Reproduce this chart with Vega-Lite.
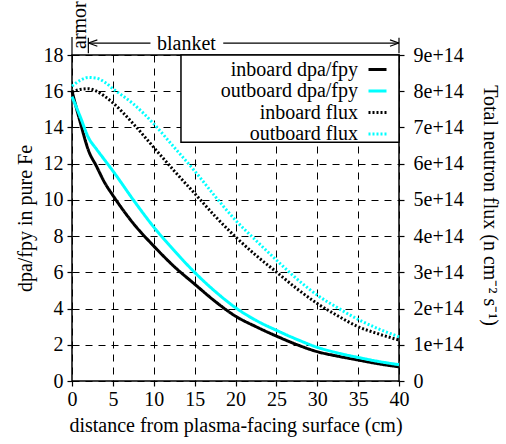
{
  "$schema": "https://vega.github.io/schema/vega-lite/v6.json",
  "width": 327,
  "height": 326,
  "autosize": {"type": "none"},
  "padding": {"left": 72, "top": 55, "right": 107, "bottom": 63},
  "config": {
    "font": "Liberation Serif",
    "background": "white",
    "view": {"stroke": "black", "strokeWidth": 1.5},
    "axis": {
      "labelFont": "Liberation Serif",
      "labelFontSize": 20,
      "labelColor": "black",
      "labelOverlap": false,
      "titleFont": "Liberation Serif",
      "titleFontSize": 20,
      "titleFontWeight": "normal",
      "titleColor": "black",
      "domain": false,
      "tickColor": "black",
      "tickSize": 5,
      "tickWidth": 1.2,
      "gridColor": "black",
      "gridWidth": 1,
      "gridDash": [7, 6],
      "gridOpacity": 1
    },
    "legend": {
      "orient": "none",
      "legendX": 295,
      "legendY": 4,
      "symbolType": "stroke",
      "symbolSize": 324,
      "symbolStrokeWidth": 3,
      "labelFont": "Liberation Serif",
      "labelFontSize": 20,
      "labelColor": "black",
      "labelAlign": "right",
      "labelOffset": -30,
      "rowPadding": 0.5,
      "padding": 0
    }
  },
  "datasets": {
    "rows": [
      {"d": 0, "inboard dpa/fpy": 16.0, "outboard dpa/fpy": 15.7, "inboard flux": 7.98e14, "outboard flux": 8.14e14},
      {"d": 1, "inboard dpa/fpy": 14.3, "outboard dpa/fpy": 14.6, "inboard flux": 8.05e14, "outboard flux": 8.30e14},
      {"d": 2, "inboard dpa/fpy": 12.75, "outboard dpa/fpy": 13.45, "inboard flux": 8.07e14, "outboard flux": 8.38e14},
      {"d": 3, "inboard dpa/fpy": 11.85, "outboard dpa/fpy": 12.8, "inboard flux": 8.0e14, "outboard flux": 8.36e14},
      {"d": 4, "inboard dpa/fpy": 10.95, "outboard dpa/fpy": 12.2, "inboard flux": 7.86e14, "outboard flux": 8.25e14},
      {"d": 5, "inboard dpa/fpy": 10.25, "outboard dpa/fpy": 11.6, "inboard flux": 7.68e14, "outboard flux": 8.07e14},
      {"d": 7.5, "inboard dpa/fpy": 8.7, "outboard dpa/fpy": 10.0, "inboard flux": 7.1e14, "outboard flux": 7.65e14},
      {"d": 10, "inboard dpa/fpy": 7.45, "outboard dpa/fpy": 8.5, "inboard flux": 6.45e14, "outboard flux": 7.1e14},
      {"d": 12.5, "inboard dpa/fpy": 6.32, "outboard dpa/fpy": 7.2, "inboard flux": 5.8e14, "outboard flux": 6.45e14},
      {"d": 15, "inboard dpa/fpy": 5.35, "outboard dpa/fpy": 6.0, "inboard flux": 5.18e14, "outboard flux": 5.8e14},
      {"d": 17.5, "inboard dpa/fpy": 4.4, "outboard dpa/fpy": 4.95, "inboard flux": 4.55e14, "outboard flux": 5.1e14},
      {"d": 20, "inboard dpa/fpy": 3.58, "outboard dpa/fpy": 4.05, "inboard flux": 3.98e14, "outboard flux": 4.44e14},
      {"d": 22.5, "inboard dpa/fpy": 3.0, "outboard dpa/fpy": 3.35, "inboard flux": 3.47e14, "outboard flux": 3.88e14},
      {"d": 25, "inboard dpa/fpy": 2.48, "outboard dpa/fpy": 2.8, "inboard flux": 3.01e14, "outboard flux": 3.34e14},
      {"d": 27.5, "inboard dpa/fpy": 2.01, "outboard dpa/fpy": 2.3, "inboard flux": 2.55e14, "outboard flux": 2.82e14},
      {"d": 30, "inboard dpa/fpy": 1.62, "outboard dpa/fpy": 1.86, "inboard flux": 2.14e14, "outboard flux": 2.37e14},
      {"d": 32.5, "inboard dpa/fpy": 1.37, "outboard dpa/fpy": 1.55, "inboard flux": 1.8e14, "outboard flux": 2.02e14},
      {"d": 35, "inboard dpa/fpy": 1.16, "outboard dpa/fpy": 1.3, "inboard flux": 1.5e14, "outboard flux": 1.7e14},
      {"d": 37.5, "inboard dpa/fpy": 0.95, "outboard dpa/fpy": 1.08, "inboard flux": 1.3e14, "outboard flux": 1.44e14},
      {"d": 40, "inboard dpa/fpy": 0.78, "outboard dpa/fpy": 0.9, "inboard flux": 1.13e14, "outboard flux": 1.22e14}
    ]
  },
  "layer": [
    {
      "layer": [
        {
          "data": {"values": [{}]},
          "mark": {"type": "rect", "fill": "white", "stroke": "black", "strokeWidth": 1.5},
          "encoding": {
            "x": {"datum": 13.33, "type": "quantitative", "axis": null},
            "x2": {"datum": 40},
            "y": {"datum": 18, "type": "quantitative", "axis": null, "scale": {"domain": [0, 18], "nice": false}},
            "y2": {"datum": 13.18}
          }
        },
        {
          "data": {"values": [{}]},
          "mark": {"type": "rule", "color": "black", "strokeWidth": 1.2},
          "encoding": {
            "x": {"datum": 0, "type": "quantitative", "axis": null},
            "y": {"datum": 18, "type": "quantitative", "axis": null},
            "y2": {"datum": 19}
          }
        },
        {
          "data": {"values": [{}]},
          "mark": {"type": "rule", "color": "black", "strokeWidth": 1.2},
          "encoding": {
            "x": {"datum": 2, "type": "quantitative", "axis": null},
            "y": {"datum": 18.1, "type": "quantitative", "axis": null},
            "y2": {"datum": 18.95}
          }
        },
        {
          "data": {"values": [{}]},
          "mark": {"type": "rule", "color": "black", "strokeWidth": 1.2},
          "encoding": {
            "x": {"datum": 40, "type": "quantitative", "axis": null},
            "y": {"datum": 18.1, "type": "quantitative", "axis": null},
            "y2": {"datum": 18.95}
          }
        },
        {
          "data": {"values": [{}]},
          "mark": {"type": "rule", "color": "black", "strokeWidth": 1.2},
          "encoding": {
            "x": {"datum": 2, "type": "quantitative", "axis": null},
            "x2": {"datum": 9.6},
            "y": {"datum": 18.66, "type": "quantitative", "axis": null}
          }
        },
        {
          "data": {"values": [{}]},
          "mark": {"type": "rule", "color": "black", "strokeWidth": 1.2},
          "encoding": {
            "x": {"datum": 18.5, "type": "quantitative", "axis": null},
            "x2": {"datum": 40},
            "y": {"datum": 18.66, "type": "quantitative", "axis": null}
          }
        },
        {
          "data": {"values": [{}]},
          "mark": {"type": "point", "shape": "M0,0L1,-0.35M0,0L1,0.35", "filled": false, "stroke": "black", "strokeWidth": 1.2, "size": 324, "opacity": 1},
          "encoding": {
            "x": {"datum": 2, "type": "quantitative", "axis": null},
            "y": {"datum": 18.66, "type": "quantitative", "axis": null}
          }
        },
        {
          "data": {"values": [{}]},
          "mark": {"type": "point", "shape": "M0,0L-1,-0.35M0,0L-1,0.35", "filled": false, "stroke": "black", "strokeWidth": 1.2, "size": 324, "opacity": 1},
          "encoding": {
            "x": {"datum": 40, "type": "quantitative", "axis": null},
            "y": {"datum": 18.66, "type": "quantitative", "axis": null}
          }
        },
        {
          "data": {"values": [{"t": "blanket"}]},
          "mark": {"type": "text", "font": "Liberation Serif", "fontSize": 20, "color": "black", "align": "center", "baseline": "middle"},
          "encoding": {
            "x": {"datum": 14, "type": "quantitative", "axis": null},
            "y": {"datum": 18.6, "type": "quantitative", "axis": null},
            "text": {"field": "t"}
          }
        },
        {
          "data": {"values": [{"t": "armor"}]},
          "mark": {"type": "text", "font": "Liberation Serif", "fontSize": 20, "color": "black", "align": "center", "baseline": "middle", "angle": 270},
          "encoding": {
            "x": {"datum": 0.95, "type": "quantitative", "axis": null},
            "y": {"datum": 19.65, "type": "quantitative", "axis": null},
            "text": {"field": "t"}
          }
        }
      ]
    },
    {
      "data": {"name": "rows"},
      "transform": [{"fold": ["inboard dpa/fpy", "outboard dpa/fpy"], "as": ["series", "v"]}],
      "mark": {"type": "line", "strokeWidth": 3, "interpolate": "monotone"},
      "encoding": {
        "x": {
          "field": "d", "type": "quantitative",
          "scale": {"domain": [0, 40], "nice": false},
          "axis": {"values": [0, 5, 10, 15, 20, 25, 30, 35, 40], "grid": true, "labelPadding": 3, "titlePadding": 6, "labelFlush": false},
          "title": "distance from plasma-facing surface (cm)"
        },
        "y": {
          "field": "v", "type": "quantitative",
          "scale": {"domain": [0, 18], "nice": false},
          "axis": {"values": [0, 2, 4, 6, 8, 10, 12, 14, 16, 18], "grid": true, "labelOverlap": false, "labelPadding": 4, "titlePadding": 8},
          "title": "dpa/fpy in pure Fe"
        },
        "color": {
          "field": "series", "type": "nominal", "title": null,
          "scale": {"domain": ["inboard dpa/fpy", "outboard dpa/fpy", "inboard flux", "outboard flux"], "range": ["black", "#00ffff", "black", "#00ffff"]}
        },
        "strokeDash": {
          "field": "series", "type": "nominal", "title": null,
          "scale": {"domain": ["inboard dpa/fpy", "outboard dpa/fpy", "inboard flux", "outboard flux"], "range": [[1, 0], [1, 0], [2, 2], [2, 2]]}
        }
      }
    },
    {
      "data": {"name": "rows"},
      "transform": [{"fold": ["inboard flux", "outboard flux"], "as": ["series", "v"]}],
      "mark": {"type": "line", "strokeWidth": 3, "interpolate": "monotone"},
      "encoding": {
        "x": {"field": "d", "type": "quantitative", "axis": null},
        "y": {
          "field": "v", "type": "quantitative",
          "scale": {"domain": [0, 9e14], "nice": false},
          "axis": {
            "orient": "right",
            "values": [0, 1e14, 2e14, 3e14, 4e14, 5e14, 6e14, 7e14, 8e14, 9e14],
            "labelExpr": "datum.value == 0 ? '0' : format(datum.value, '.0e')",
            "grid": false, "labelPadding": 9, "titlePadding": 16, "titleY": 150
          },
          "title": "Total neutron flux (n cm⁻² s⁻¹)"
        },
        "color": {"field": "series", "type": "nominal", "title": null},
        "strokeDash": {"field": "series", "type": "nominal", "title": null}
      }
    }
  ],
  "resolve": {"scale": {"y": "independent"}, "axis": {"x": "independent"}}
}
